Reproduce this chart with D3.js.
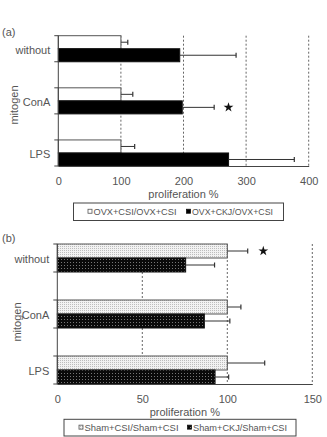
<!DOCTYPE html>
<html><head><meta charset="utf-8">
<script src="https://cdn.jsdelivr.net/npm/d3@7"></script>
<style>
html,body{margin:0;padding:0;background:#fff;}
svg text{font-family:"Liberation Sans",Arial,sans-serif;fill:#555;}
</style></head>
<body>
<svg id="c" width="327" height="437"></svg>
<script>
// ---- data ----
const categories = ["without", "ConA", "LPS"];
const seriesA = ["OVX+CSI/OVX+CSI", "OVX+CKJ/OVX+CSI"];
const aControl = [100, 100, 100];
const aControlSd = [11, 19, 22];
const aCKJ = [194, 198, 272];
const aCKJSd = [90, 51, 105];
const ticksA = [0, 100, 200, 300, 400];
const starA = "ConA";

const seriesB = ["Sham+CSI/Sham+CSI", "Sham+CKJ/Sham+CSI"];
const bControl = [100, 100, 100];
const bControlSd = [12, 8, 22];
const bCKJ = [75.5, 86.5, 92.8];
const bCKJSd = [17, 15, 8];
const ticksB = [0, 50, 100, 150];
const starB = "without";

const svg = d3.select("#c");
const defs = svg.append("defs");
// light stipple
const pl = defs.append("pattern").attr("id","pLight").attr("patternUnits","userSpaceOnUse").attr("width",2).attr("height",2);
pl.append("rect").attr("width",2).attr("height",2).attr("fill","#f2f2f2");
pl.append("rect").attr("width",1).attr("height",1).attr("fill","#bdbdbd");
// dark stipple
const pd = defs.append("pattern").attr("id","pDark").attr("patternUnits","userSpaceOnUse").attr("width",3).attr("height",3);
pd.append("rect").attr("width",3).attr("height",3).attr("fill","#0a0a0a");
pd.append("rect").attr("x",1).attr("y",1).attr("width",1).attr("height",1).attr("fill","#777");

function panel(o){
  const g = svg.append("g");
  const x = d3.scaleLinear().domain([0, o.ticks[o.ticks.length-1]]).range(o.xr);
  const y = d3.scaleBand().domain(categories).range(o.yr).paddingInner(0.5).paddingOuter(0);
  const sub = d3.scaleBand().domain([0,1]).range([0, y.bandwidth()]);
  const bw = sub.bandwidth();

  // gridlines
  g.selectAll(".grid").data(o.ticks.slice(1)).join("line")
    .attr("x1", d=>x(d)).attr("x2", d=>x(d))
    .attr("y1", o.yr[0]).attr("y2", o.yr[1])
    .attr("stroke","#666").attr("stroke-width",1).attr("stroke-dasharray","2,2");

  const series = [
    {vals:o.ctl, sd:o.ctlSd, fill:o.fill0, stroke:"#555"},
    {vals:o.ckj, sd:o.ckjSd, fill:o.fill1, stroke:"#111"}
  ];
  series.forEach((s, si) => {
    g.selectAll(".bar"+si).data(categories).join("rect")
      .attr("x", x(0)).attr("y", c => y(c) + sub(si))
      .attr("width", (c,i) => x(s.vals[i]) - x(0)).attr("height", bw)
      .attr("fill", s.fill).attr("stroke", s.stroke).attr("stroke-width", 1);
  });
  series.forEach((s, si) => {
    const eg = g.selectAll(".err"+si).data(categories).join("g");
    eg.append("line")
      .attr("x1", (c,i)=>x(s.vals[i])).attr("x2", (c,i)=>x(s.vals[i]+s.sd[i]))
      .attr("y1", c=>y(c)+sub(si)+bw/2).attr("y2", c=>y(c)+sub(si)+bw/2)
      .attr("stroke","#333").attr("stroke-width",1);
    eg.append("line")
      .attr("x1", (c,i)=>x(s.vals[i]+s.sd[i])).attr("x2", (c,i)=>x(s.vals[i]+s.sd[i]))
      .attr("y1", c=>y(c)+sub(si)+bw/2-2.5).attr("y2", c=>y(c)+sub(si)+bw/2+2.5)
      .attr("stroke","#333").attr("stroke-width",1.2);
  });

  // axes
  const xa = g.append("g").attr("transform",`translate(0,${o.yr[1]})`)
    .call(d3.axisBottom(x).tickValues(o.ticks).tickSize(0).tickPadding(11).tickFormat(d3.format("d")));
  xa.select(".domain").attr("stroke","#444");
  xa.selectAll("text").attr("font-size",11).attr("fill","#555").attr("font-family","Liberation Sans, Arial, sans-serif");

  g.append("line").attr("x1",x(0)).attr("x2",x(0)).attr("y1",o.yr[0]).attr("y2",o.yr[1]).attr("stroke","#444");
  const tickYs = [];
  categories.forEach(c => { tickYs.push(y(c)); tickYs.push(y(c)+y.bandwidth()); });
  g.selectAll(".yt").data(tickYs).join("line")
    .attr("x1", x(0)-4).attr("x2", x(0)).attr("y1", d=>d).attr("y2", d=>d).attr("stroke","#444");
  g.selectAll(".cl").data(categories).join("text")
    .attr("x", x(0)-8).attr("y", c=>y(c)+y.bandwidth()/2+1)
    .attr("text-anchor","end").attr("dominant-baseline","central").attr("font-size",11)
    .text(c=>c);

  g.append("text").attr("transform",`translate(${o.mitX},${o.mitY}) rotate(-90)`)
    .attr("text-anchor","middle").attr("dominant-baseline","central").attr("font-size",11).text("mitogen");
  g.append("text").attr("x",(o.xr[0]+o.xr[1])/2).attr("y",o.yr[1]+28)
    .attr("text-anchor","middle").attr("dominant-baseline","central").attr("font-size",11).text("proliferation %");
  g.append("text").attr("x",2).attr("y",o.labY).attr("dominant-baseline","central").attr("font-size",11).attr("fill","#333").text(o.label);

  // star
  g.append("path").attr("d", d3.symbol(d3.symbolStar, 30)())
    .attr("transform",`translate(${o.starX},${y(o.star)+sub(o.starSeries)+bw/2})`).attr("fill","#111");

  // legend
  const lg = g.append("g");
  lg.append("rect").attr("x",o.leg[0]).attr("y",o.leg[1]).attr("width",o.leg[2]).attr("height",o.leg[3])
    .attr("fill","#fff").attr("stroke","#444");
  o.names.forEach((n, i) => {
    const lx = o.legItems[i];
    const cy = o.leg[1] + o.leg[3]/2;
    lg.append("rect").attr("x",lx).attr("y",cy-2.5).attr("width",4).attr("height",4)
      .attr("fill", i===0 ? o.fill0 : o.fill1).attr("stroke", i===0 ? "#555" : "#111").attr("stroke-width",0.8);
    lg.append("text").attr("x",lx+5.5).attr("y",cy).attr("dominant-baseline","central")
      .attr("font-size",9.5).attr("textLength",o.legLen[i]).attr("lengthAdjust","spacingAndGlyphs")
      .attr("fill","#333").text(n);
  });
}

panel({
  xr:[58.3, 308.7], yr:[35.7, 166], ticks:ticksA,
  ctl:aControl, ctlSd:aControlSd, ckj:aCKJ, ckjSd:aCKJSd,
  fill0:"#fff", fill1:"#000", names:seriesA,
  mitX:14, mitY:105, labY:32, label:"(a)",
  star:starA, starSeries:1, starX:228.5,
  leg:[73.5, 203, 210, 17.5], legItems:[88, 186.5], legLen:[83, 81]
});
panel({
  xr:[57.3, 312.3], yr:[244, 384], ticks:ticksB,
  ctl:bControl, ctlSd:bControlSd, ckj:bCKJ, ckjSd:bCKJSd,
  fill0:"url(#pLight)", fill1:"url(#pDark)", names:seriesB,
  mitX:17, mitY:322, labY:237.5, label:"(b)",
  star:starB, starSeries:0, starX:263.3,
  leg:[64, 419.3, 232, 16.7], legItems:[79, 187.5], legLen:[94, 94]
});
</script>
</body></html>
